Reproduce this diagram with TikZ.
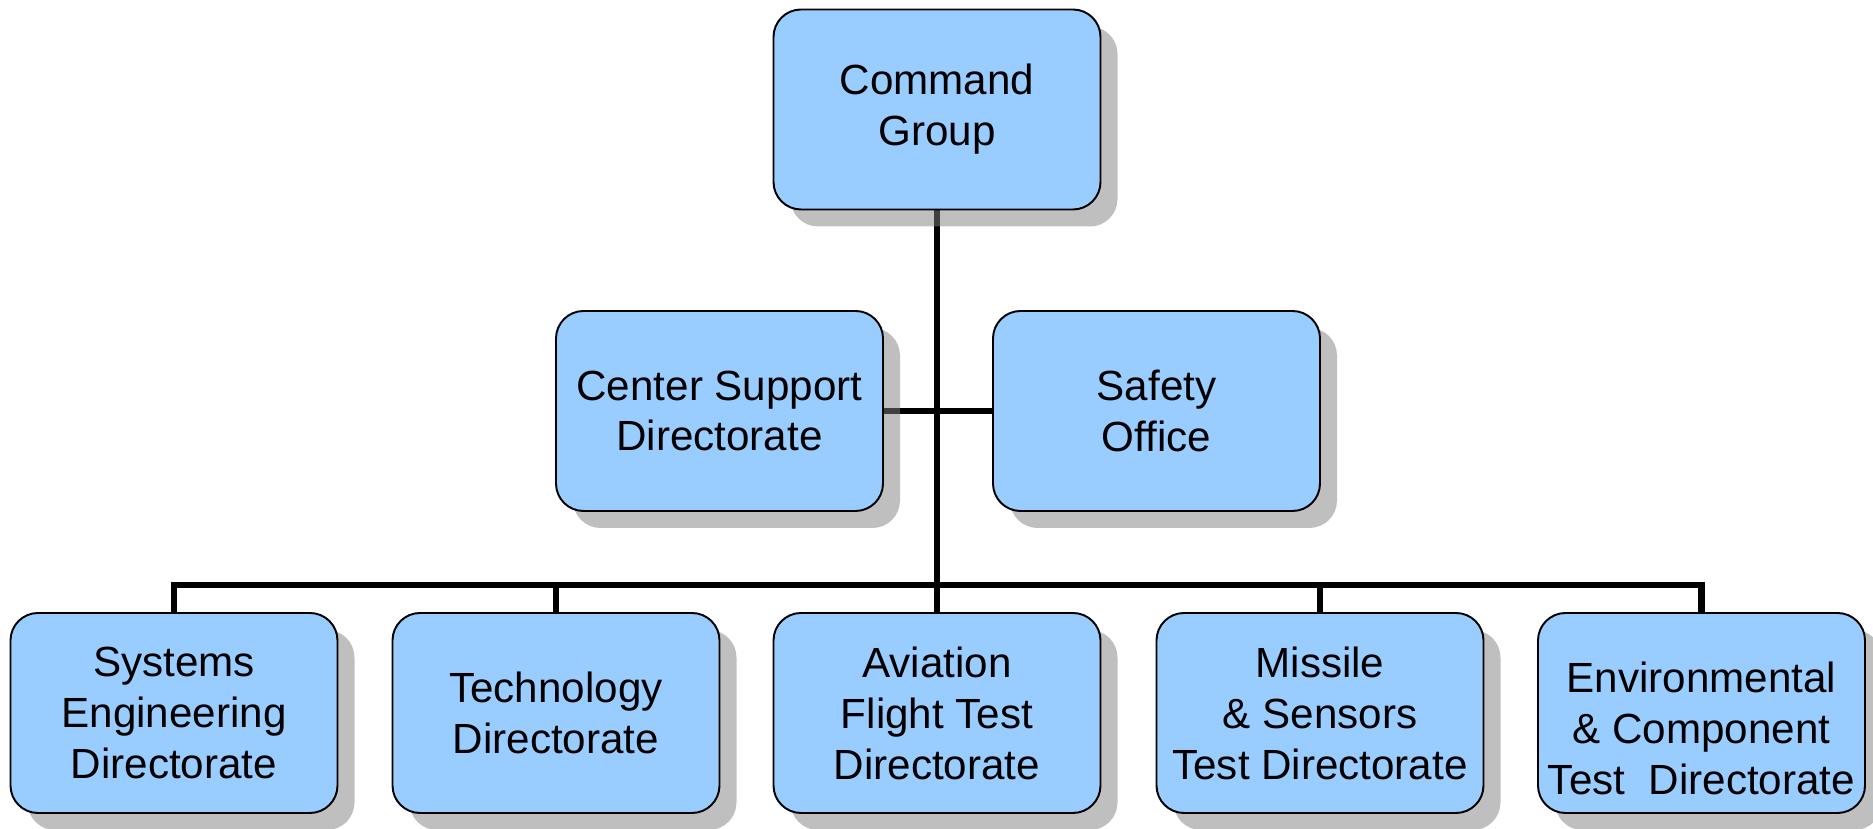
\documentclass[tikz,border=0pt]{standalone}
\usepackage{fontspec}
\setmainfont{Liberation Sans}
\usetikzlibrary{shadows,backgrounds}
\definecolor{boxblue}{RGB}{153,204,255}
\begin{document}
\begin{tikzpicture}[
		unit/.style={draw,shape=rectangle,rounded corners=0.55cm,fill=boxblue,line width=1.1pt,
			minimum width=6.54cm,minimum height=4cm,inner sep=2pt,align=center,
			font=\fontsize{24}{29}\selectfont,
			drop shadow={shadow xshift=0.34cm,shadow yshift=-0.34cm}},
		link/.style={line width=3.6pt}]
		\useasboundingbox (0,0) rectangle (37.46,16.58);
		
		\node[unit] (cmd) at (18.74,14.39) {Command\\Group};
		\node[unit] (csd) at (14.39,8.36) {Center Support\\Directorate};
		\node[unit] (safe) at (23.13,8.36) {Safety\\Office};
		\node[unit] (sys) at (3.48,2.32) {Systems\\Engineering\\Directorate};
		\node[unit] (tech) at (11.12,2.32) {Technology\\Directorate};
		\node[unit] (avi) at (18.74,2.32) {Aviation\\Flight Test\\Directorate};
		\node[unit] (mis) at (26.40,2.32) {Missile\\\& Sensors\\Test Directorate};
		\node[unit,text height=3.26cm] (env) at (34.03,2.32) {Environmental\\\& Component\\Test\ \ Directorate};
		\coordinate (bus) at (18.74,4.88);
		
		\begin{scope}[on background layer]
		\draw[link] (cmd.south) -- (avi.north);
		\draw[link] (csd.east) -- (safe.west);
		\draw[link] (sys.north) |- (bus) -| (env.north);
		\draw[link] (tech.north) -- (tech.north |- bus);
		\draw[link] (mis.north) -- (mis.north |- bus);
		\end{scope}
		\end{tikzpicture}
\end{document}
